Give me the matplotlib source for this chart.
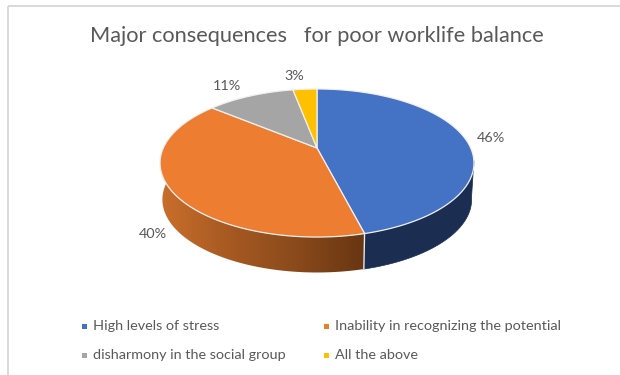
"""Tilted 3D-style pie of consequences of poor work-life balance."""
import numpy as np
import matplotlib
matplotlib.use("Agg")
import matplotlib.pyplot as plt
from matplotlib.colors import LinearSegmentedColormap
from matplotlib.patches import Polygon, Rectangle

TITLE = "Major consequences   for poor worklife balance"
CATEGORIES = ["High levels of stress", "Inability in recognizing the potential",
              "disharmony in the social group", "All the above"]
VALUES = [46, 40, 11, 3]

COLORS = ["#4472c4", "#ed7d31", "#a5a5a5", "#ffc000"]
TEXT = "#595959"
FRAME = "#d9d9d9"
BLUE_WALL = "#1b2d50"
ORANGE_WALL = LinearSegmentedColormap.from_list(
    "wall", ["#cb6f2c", "#a85a22", "#8a4a1b", "#683612"])

# perspective of the tilted disc, in pixels
CX, CY = 317.0, 148.0
RX, RY, TILT = 153.7, 71.0, 0.2027
WALL_H, WALL_SCALE = 37.0, 0.985

plt.rcParams["font.family"] = ["Lato", "DejaVu Sans"]
fig = plt.figure(figsize=(6.2, 3.75), dpi=100, facecolor="white")
ax = fig.add_axes([0, 0, 1, 1])


def project(theta, scale=1.0, drop=0.0):
    """theta is clockwise from 12 o'clock, radians."""
    u, v = np.sin(theta), np.cos(theta)
    w = 1 + TILT * v
    return CX + scale * RX * u / w, CY + drop - scale * RY * v / w + (scale - 1) * 15


# chart frame, only top and left edges are visible
ax.plot([8, 8], [6, 375], color=FRAME, lw=1.4, solid_capstyle="butt")
ax.plot([8, 620], [6, 6], color=FRAME, lw=1.4, solid_capstyle="butt")

shares = np.array(VALUES, dtype=float) / sum(VALUES)
edges = np.concatenate([[0], np.cumsum(shares)]) * 2 * np.pi

# side wall: blue from the right extreme to the slice edge, orange on to the left
right_t, left_t = np.radians(100), np.radians(280)
split = edges[1]
t_blue = np.linspace(right_t, split, 80)
xt, yt = project(t_blue)
xb, yb = project(t_blue[::-1], WALL_SCALE, WALL_H)
ax.add_patch(Polygon(np.r_[np.c_[xt, yt], np.c_[xb, yb]], fc=BLUE_WALL, ec=BLUE_WALL, lw=0.5))

# orange wall is a horizontal gradient clipped to its outline
t_or = np.linspace(split, left_t, 220)
xt, yt = project(t_or)
xb, yb = project(t_or[::-1], WALL_SCALE, WALL_H)
outline = Polygon(np.r_[np.c_[xt, yt], np.c_[xb, yb]], fc="none", ec="none", transform=ax.transData)
ax.add_patch(outline)
grad = ax.imshow(np.linspace(0, 1, 256)[None, :], cmap=ORANGE_WALL, aspect="auto",
                 extent=(xt.min() - 2, xt.max(), 285, 150), interpolation="bilinear")
grad.set_clip_path(outline)

# light seam between the two wall colours
xs, ys = project(np.array([split, split]), np.array([1.0, WALL_SCALE]), np.array([0.0, WALL_H]))
ax.plot(xs, ys, color="#e8e8e8", lw=1.0)

# top face
for start, stop, color in zip(edges[:-1], edges[1:], COLORS):
    t = np.linspace(start, stop, 200)
    x, y = project(t)
    pts = np.r_[[[CX, CY]], np.c_[x, y]]
    ax.add_patch(Polygon(pts, closed=True, fc=color, ec="#f0f0f0", lw=0.9, joinstyle="round"))

# value labels sit just outside the rim
LABEL_POS = [(491, 138), (153, 234), (227, 86), (294, 76)]
for value, (lx, ly) in zip(VALUES, LABEL_POS):
    ax.text(lx, ly, f"{value}%", ha="center", va="center", fontsize=10.4, color=TEXT)

ax.text(317, 36, TITLE, ha="center", va="center", fontsize=15.7, color=TEXT)

# legend, two columns by two rows
LEGEND_POS = [(84, 326), (326, 326), (84, 355), (326, 355)]
for name, color, (lx, ly) in zip(CATEGORIES, COLORS, LEGEND_POS):
    ax.add_patch(Rectangle((lx - 2.5, ly - 2.5), 5, 5, fc=color, ec="none"))
    ax.text(lx + 9, ly, name, ha="left", va="center", fontsize=10.4, color=TEXT)

ax.set_xlim(0, 620)
ax.set_ylim(375, 0)
ax.axis("off")
fig.savefig("out.png", dpi=100, facecolor="white")
